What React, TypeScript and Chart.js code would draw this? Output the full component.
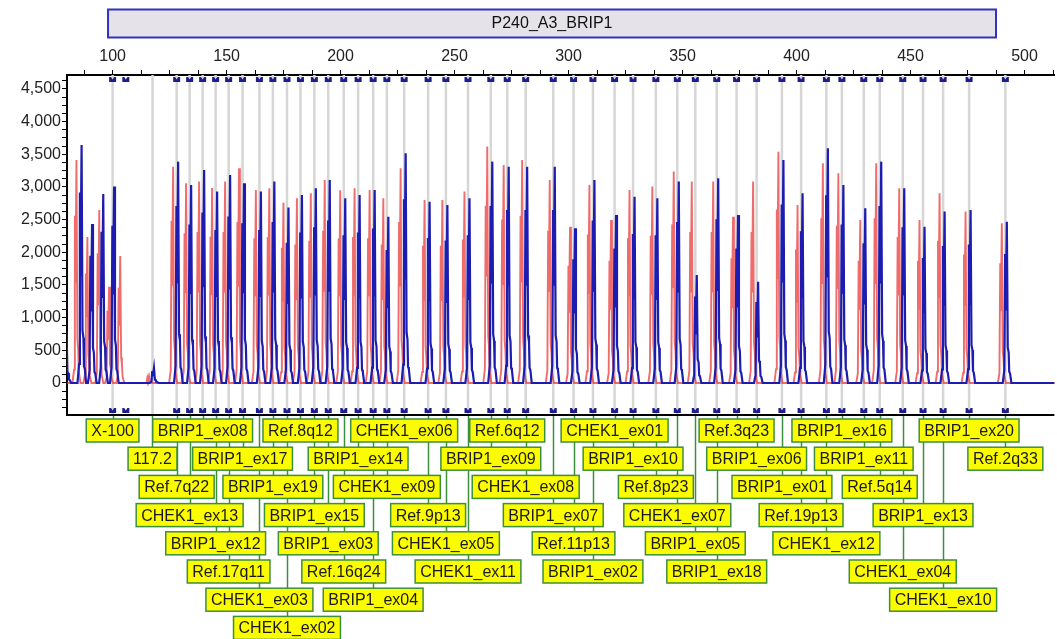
import React, { useEffect, useRef } from 'react';
import { Chart, registerables } from 'chart.js';

Chart.register(...registerables);

const FONT = "'Liberation Sans', Arial, sans-serif";

const panelTitle = 'P240_A3_BRIP1';
const panelStart = 98;
const panelEnd = 487.5;

const probeLabels = [
  'X-100', '117.2', 'Ref.7q22', 'CHEK1_ex13', 'BRIP1_ex08', 'BRIP1_ex12', 'Ref.17q11', 'BRIP1_ex17',
  'CHEK1_ex03', 'BRIP1_ex19', 'CHEK1_ex02', 'Ref.8q12', 'BRIP1_ex15', 'BRIP1_ex03', 'Ref.16q24', 'BRIP1_ex14',
  'BRIP1_ex04', 'CHEK1_ex09', 'CHEK1_ex06', 'Ref.9p13', 'CHEK1_ex05', 'CHEK1_ex11', 'BRIP1_ex09', 'Ref.6q12',
  'CHEK1_ex08', 'BRIP1_ex07', 'Ref.11p13', 'BRIP1_ex02', 'CHEK1_ex01', 'BRIP1_ex10', 'Ref.8p23', 'CHEK1_ex07',
  'BRIP1_ex05', 'BRIP1_ex18', 'Ref.3q23', 'BRIP1_ex06', 'BRIP1_ex01', 'Ref.19p13', 'CHEK1_ex12', 'BRIP1_ex16',
  'BRIP1_ex11', 'Ref.5q14', 'CHEK1_ex04', 'BRIP1_ex13', 'CHEK1_ex10', 'BRIP1_ex20', 'Ref.2q33',
];

const probeSizes = [
  100.0, 117.5, 128.1, 133.8, 139.5, 145.2, 150.9, 157.0,
  164.4, 170.3, 176.5, 182.4, 188.5, 194.6, 201.4, 207.7,
  214.3, 220.3, 227.9, 238.4, 246.2, 255.9, 265.9, 273.1,
  281.2, 293.3, 302.2, 310.7, 320.2, 328.3, 338.3, 347.7,
  355.6, 365.0, 373.7, 382.5, 393.6, 402.0, 413.1, 419.9,
  429.5, 436.5, 446.6, 455.5, 464.3, 475.7, 491.6,
];

const labelRows = [
  0, 1, 2, 3, 0, 4, 5, 1,
  6, 2, 7, 0, 3, 4, 5, 1,
  6, 2, 0, 3, 4, 5, 1, 0,
  2, 3, 4, 5, 0, 1, 2, 3,
  4, 5, 0, 1, 2, 3, 4, 0,
  1, 2, 5, 3, 6, 0, 1,
];

const referenceHeights = [
  1474, 110, 3311, 3056, 3082, 2985, 3082, 3286,
  2954, 2980, 2760, 2827, 2903, 3107, 2950, 2980,
  2954, 2827, 3286, 2801, 2801, 2929, 3618, 3337,
  3414, 3107, 2393, 3031, 2495, 2954, 3006, 3235,
  3082, 3082, 2546, 3082, 3541, 2725, 3363, 3209,
  2495, 3363, 2980, 2495, 2903, 2623, 2444,
];

const sampleHeights = [
  3006, 230, 3388, 3031, 3260, 2929, 3184, 3056,
  2929, 3082, 2684, 2878, 2980, 3107, 2827, 2878,
  2954, 2546, 3516, 2775, 2725, 2827, 3388, 3311,
  3311, 3311, 2368, 3107, 2572, 2852, 2827, 3082,
  1653, 3133, 2572, 1551, 3414, 2903, 3593, 3031,
  2674, 3388, 2980, 2393, 2623, 2648, 2469,
];

const controlRefSizes = [84.4, 89.2, 94.4, 103.6];
const controlRefHeights = [3414, 2235, 2648, 1944];
const controlSampleSizes = [80.0, 86.6, 91.2, 96.1];
const controlSampleHeights = [780, 3643, 2434, 2893];
const extraMarkerSizes = [105.8];
const unmarkedProbes = ['117.2'];

const yTickStep = 125;
const yLabelStep = 500;
const xTickStep = 12.5;
const xLabelStep = 50;

const RED_OFFSET = -1.3;
const BLUE_OFFSET = 0.85;
const RED_SHAPE = [[-2.0, 0], [-1.3, 0.06], [-0.95, 0.75], [-0.7, 0.45], [-0.25, 1], [0.15, 0.2], [0.5, 0.15], [0.8, 0.05], [1.5, 0]];
const BLUE_SHAPE = [[-2.0, 0], [-1.3, 0.08], [-0.95, 0.8], [-0.7, 0.45], [-0.2, 1], [0.2, 0.22], [0.6, 0.19], [0.85, 0.07], [1.2, 0.06], [1.8, 0]];

function buildTrace(centers: number[], heights: number[], shape: number[][]) {
  const idx = centers.map((_, i) => i).sort((a, b) => centers[a] - centers[b]);
  const pts: { x: number; y: number }[] = [{ x: 76, y: 0 }];
  for (const i of idx) {
    for (const [dx, f] of shape) pts.push({ x: centers[i] + dx, y: heights[i] * f });
  }
  pts.push({ x: 520, y: 0 });
  return pts;
}

const overlayPlugin = {
  id: 'overlay',
  beforeDatasetsDraw(chart: any) {
    const { ctx, chartArea, scales } = chart;
    const xs = scales.x;
    ctx.save();
    ctx.strokeStyle = '#d6d6d6';
    ctx.lineWidth = 2.5;
    for (const s of probeSizes) {
      const px = xs.getPixelForValue(s);
      ctx.beginPath();
      ctx.moveTo(px, chartArea.top);
      ctx.lineTo(px, chartArea.bottom);
      ctx.stroke();
    }
    ctx.restore();
  },
  afterDatasetsDraw(chart: any) {
    const { ctx, chartArea, scales } = chart;
    const xs = scales.x;
    ctx.save();
    const markerSizes = probeSizes.filter((_, i) => !unmarkedProbes.includes(probeLabels[i])).concat(extraMarkerSizes);
    ctx.fillStyle = '#1c1c8c';
    const drawMarker = (x: number, y0: number) => {
      ctx.beginPath();
      ctx.moveTo(x - 3.5, y0);
      ctx.lineTo(x - 3.5, y0 + 5);
      ctx.lineTo(x + 3.5, y0 + 5);
      ctx.lineTo(x + 3.5, y0);
      ctx.lineTo(x + 1.5, y0);
      ctx.lineTo(x, y0 + 2.5);
      ctx.lineTo(x - 1.5, y0);
      ctx.closePath();
      ctx.fill();
    };
    for (const s of markerSizes) {
      const px = xs.getPixelForValue(s);
      drawMarker(px, chartArea.top + 2);
      drawMarker(px, chartArea.bottom - 7);
    }
    ctx.strokeStyle = '#000';
    ctx.lineWidth = 2;
    ctx.beginPath();
    ctx.moveTo(chartArea.left, chartArea.bottom);
    ctx.lineTo(chartArea.right, chartArea.bottom);
    ctx.stroke();
    ctx.restore();
  },
  afterDraw(chart: any) {
    const { ctx, chartArea, scales } = chart;
    const xs = scales.x;
    ctx.save();
    const hx0 = xs.getPixelForValue(panelStart);
    const hx1 = xs.getPixelForValue(panelEnd);
    ctx.fillStyle = '#e6e2ea';
    ctx.fillRect(hx0, 9.5, hx1 - hx0, 28);
    ctx.strokeStyle = '#3232c0';
    ctx.lineWidth = 2;
    ctx.strokeRect(hx0, 9.5, hx1 - hx0, 28);
    ctx.fillStyle = '#111';
    ctx.font = `16px ${FONT}`;
    ctx.textAlign = 'center';
    ctx.textBaseline = 'middle';
    ctx.fillText(panelTitle, (hx0 + hx1) / 2, 24);

    const rowTop = (r: number) => chartArea.bottom + 4 + r * 28.2;
    const boxH = 23;
    ctx.strokeStyle = '#3d8f3d';
    ctx.lineWidth = 1.5;
    for (let i = 0; i < probeSizes.length; i++) {
      const px = Math.round(xs.getPixelForValue(probeSizes[i])) + 0.5;
      ctx.beginPath();
      ctx.moveTo(px, chartArea.bottom + 1);
      ctx.lineTo(px, rowTop(labelRows[i]));
      ctx.stroke();
    }
    for (let i = 0; i < probeSizes.length; i++) {
      const px = xs.getPixelForValue(probeSizes[i]);
      const w = ctx.measureText(probeLabels[i]).width + 10;
      const top = rowTop(labelRows[i]);
      ctx.fillStyle = '#fcfc00';
      ctx.fillRect(px - w / 2, top, w, boxH);
      ctx.strokeStyle = '#3d8f3d';
      ctx.strokeRect(px - w / 2, top, w, boxH);
      ctx.fillStyle = '#1a1a1a';
      ctx.fillText(probeLabels[i], px, top + boxH / 2 + 1);
    }
    ctx.restore();
  },
};

export default function App() {
  const ref = useRef<HTMLCanvasElement>(null);
  useEffect(() => {
    const canvas = ref.current!;
    const redCenters = probeSizes.map((s) => s + RED_OFFSET).concat(controlRefSizes);
    const redHeights = referenceHeights.concat(controlRefHeights);
    const blueCenters = probeSizes.map((s) => s + BLUE_OFFSET).concat(controlSampleSizes);
    const blueHeights = sampleHeights.concat(controlSampleHeights);

    const chart = new Chart(canvas, {
      type: 'scatter',
      data: {
        datasets: [
          {
            label: 'Sample',
            data: buildTrace(blueCenters, blueHeights, BLUE_SHAPE),
            showLine: true,
            borderColor: '#1c1cb0',
            borderWidth: 2.2,
            pointRadius: 0,
            tension: 0,
            order: 1,
          },
          {
            label: 'Reference',
            data: buildTrace(redCenters, redHeights, RED_SHAPE),
            showLine: true,
            borderColor: 'rgba(232,45,45,0.7)',
            borderWidth: 1.9,
            pointRadius: 0,
            tension: 0,
            order: 2,
          },
        ],
      },
      options: {
        responsive: false,
        animation: false,
        events: [],
        layout: { padding: { left: 0, right: 0, top: 0, bottom: 224 } },
        plugins: { legend: { display: false }, tooltip: { enabled: false } },
        scales: {
          x: {
            type: 'linear',
            position: 'top',
            min: 80,
            max: 513.1,
            afterFit: (s: any) => { s.height = 75; },
            ticks: {
              stepSize: xTickStep,
              autoSkip: false,
              includeBounds: false,
              maxRotation: 0,
              padding: 4,
              color: '#222',
              font: { size: 16, family: FONT },
              callback: (v: any) => (Number(v) % xLabelStep === 0 ? String(v) : ''),
            },
            grid: { drawOnChartArea: false, drawTicks: true, tickLength: 5, color: '#000' },
            border: { display: true, color: '#000', width: 2 },
          },
          y: {
            type: 'linear',
            min: -490,
            max: 4714,
            afterFit: (s: any) => { s.width = 67; },
            ticks: {
              stepSize: yTickStep,
              autoSkip: false,
              includeBounds: false,
              padding: 1,
              color: '#222',
              font: { size: 16, family: FONT },
              callback: (v: any) => {
                const n = Number(v);
                return n >= 0 && n % yLabelStep === 0 ? n.toLocaleString('en-US') : '';
              },
            },
            grid: { drawOnChartArea: false, drawTicks: true, tickLength: 5, color: '#000' },
            border: { display: true, color: '#000', width: 2 },
          },
        },
      },
      plugins: [overlayPlugin],
    } as any);
    return () => chart.destroy();
  }, []);
  return (
    <canvas
      ref={ref}
      width={1057}
      height={639}
      style={{ position: 'fixed', left: 0, top: 0, width: 1057, height: 639, display: 'block', background: '#fff' }}
    />
  );
}
